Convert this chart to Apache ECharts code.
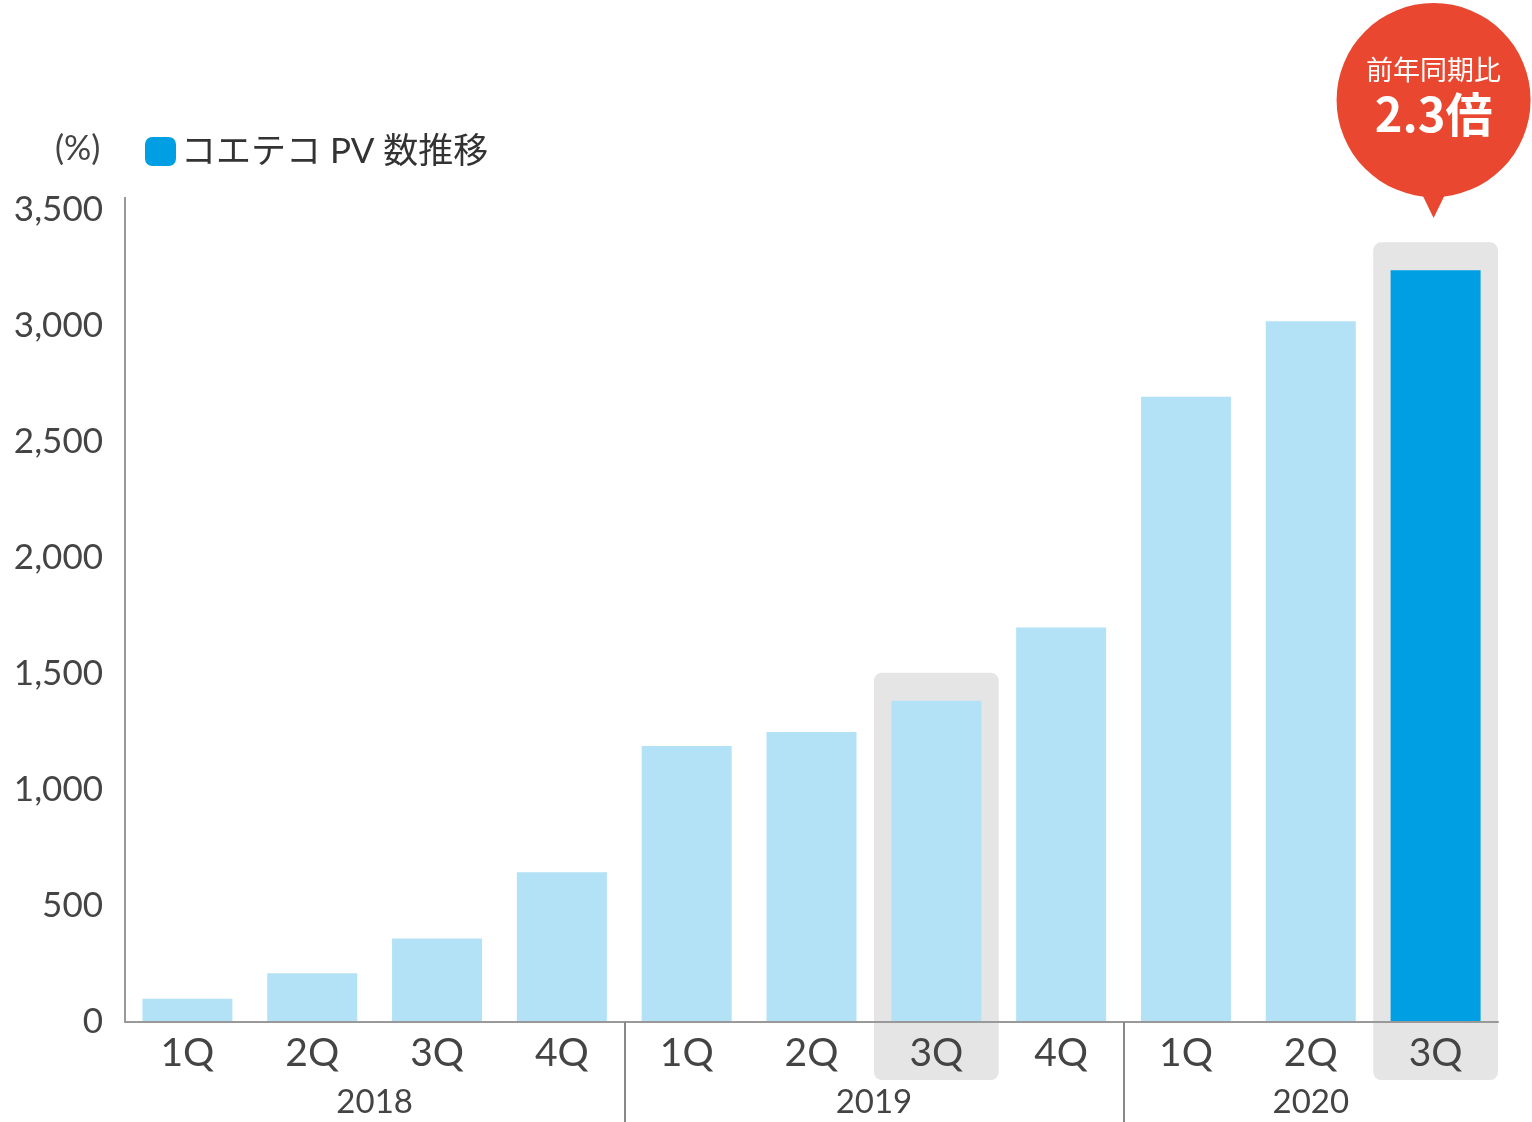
<!DOCTYPE html>
<html>
<head>
<meta charset="utf-8">
<script src="https://cdn.jsdelivr.net/npm/echarts@6/dist/echarts.min.js"></script>
<style>
html,body{margin:0;padding:0;background:#fff;}
#chart{width:1532px;height:1122px;}
</style>
</head>
<body>
<div id="chart"></div>
<script>
const quarters = ['1Q','2Q','3Q','4Q','1Q','2Q','3Q','4Q','1Q','2Q','3Q'];
const pvValues = [100, 210, 360, 645, 1190, 1250, 1385, 1700, 2695, 3020, 3240];
const highlightIdx = [6, 10];
const years = ['2018', '2019', '2020'];
const yearLabelPos = [2, 6, 9.5];
const yearDividers = [4, 8];
const seriesName = 'コエテコ PV 数推移';
const yTicks = {min: 0, max: 3500, interval: 500};

const FONT = 'Lato, "Noto Sans CJK JP", sans-serif';
const LIGHT = '#b3e2f7';
const DARK = '#009fe3';
const TXT = '#444';
const AXIS = '#999';

const chart = echarts.init(document.getElementById('chart'));
const lastIdx = pvValues.length - 1;

const option = {
  animation: false,
  textStyle: {fontFamily: FONT},
  title: {
    text: '(%)', left: 50, top: 127,
    textStyle: {fontFamily: FONT, fontSize: 34, fontWeight: 'normal', color: TXT}
  },
  legend: {
    left: 140, top: 129,
    itemWidth: 31, itemHeight: 29, itemGap: 10,
    icon: 'roundRect',
    textStyle: {fontFamily: FONT, fontSize: 35, color: '#333'},
    data: [seriesName]
  },
  grid: {left: 125, right: 34, top: 210, bottom: 100, containLabel: false},
  xAxis: [
    {
      type: 'category', data: quarters, z: 5,
      axisLine: {lineStyle: {color: AXIS, width: 2}},
      axisTick: {show: false},
      axisLabel: {fontFamily: FONT, fontSize: 39, color: TXT, margin: 12}
    },
    {
      type: 'value', min: 0, max: quarters.length, position: 'bottom', z: 5,
      axisLine: {show: false},
      splitLine: {show: false},
      axisTick: {show: true, customValues: yearDividers, length: 100, lineStyle: {color: '#888', width: 2}},
      axisLabel: {
        customValues: yearLabelPos, fontFamily: FONT, fontSize: 33, color: TXT, margin: 64,
        formatter: v => years[yearLabelPos.indexOf(v)] || ''
      }
    }
  ],
  yAxis: {
    type: 'value', min: yTicks.min, max: yTicks.max, interval: yTicks.interval, z: 5,
    axisLine: {show: true, lineStyle: {color: AXIS, width: 2}},
    axisTick: {show: false},
    splitLine: {show: false},
    axisLabel: {
      fontFamily: FONT, fontSize: 35, color: TXT, margin: 22,
      formatter: v => v.toLocaleString('en-US')
    }
  },
  series: [
    {
      type: 'custom', z: 1, clip: false, silent: true,
      xAxisIndex: 0, yAxisIndex: 0,
      encode: {x: 0, y: 1},
      data: highlightIdx.map(i => [i, pvValues[i]]),
      renderItem: function (params, api) {
        const top = api.coord([api.value(0), api.value(1)]);
        const base = api.coord([api.value(0), 0]);
        const w = api.size([1, 0])[0];
        const y0 = top[1] - 28;
        const y1 = base[1] + 58;
        return {
          type: 'rect',
          shape: {x: top[0] - w / 2, y: y0, width: w, height: y1 - y0, r: 8},
          style: {fill: '#e5e5e5'}
        };
      }
    },
    {
      name: seriesName, type: 'bar', z: 2, barWidth: 90,
      xAxisIndex: 0, yAxisIndex: 0,
      itemStyle: {color: DARK},
      data: pvValues.map((v, i) => ({value: v, itemStyle: {color: i === lastIdx ? DARK : LIGHT}}))
    }
  ]
};
chart.setOption(option);

// callout bubble above the last bar, and the short extension of the y axis line
const pt = chart.convertToPixel({xAxisIndex: 0, yAxisIndex: 0}, [lastIdx, pvValues[lastIdx]]);
const axTop = chart.convertToPixel({xAxisIndex: 0, yAxisIndex: 0}, [0, yTicks.max]);
const axX = chart.getModel().getComponent('grid', 0).coordinateSystem.getRect().x;
const cx = pt[0] - 2;
const cy = 100;
const RED = '#e9472f';
chart.setOption({
  graphic: [
    {type: 'line', z: 5, shape: {x1: axX, y1: axTop[1], x2: axX, y2: axTop[1] - 13}, style: {stroke: AXIS, lineWidth: 2}},
    {
      type: 'group', z: 20,
      children: [
        {type: 'circle', shape: {cx: cx, cy: cy, r: 97}, style: {fill: RED}},
        {type: 'polygon', shape: {points: [[cx - 16, cy + 85], [cx + 16, cy + 85], [cx, cy + 118]]}, style: {fill: RED}},
        {type: 'text', x: cx, y: 70, style: {text: '前年同期比', fill: '#fff', font: '27px "Noto Sans CJK JP", sans-serif', textAlign: 'center', textVerticalAlign: 'middle'}},
        {type: 'text', x: cx, y: 114, style: {text: '2.3倍', fill: '#fff', font: 'bold 47px "Noto Sans CJK JP", sans-serif', textAlign: 'center', textVerticalAlign: 'middle'}}
      ]
    }
  ]
});
</script>
</body>
</html>
